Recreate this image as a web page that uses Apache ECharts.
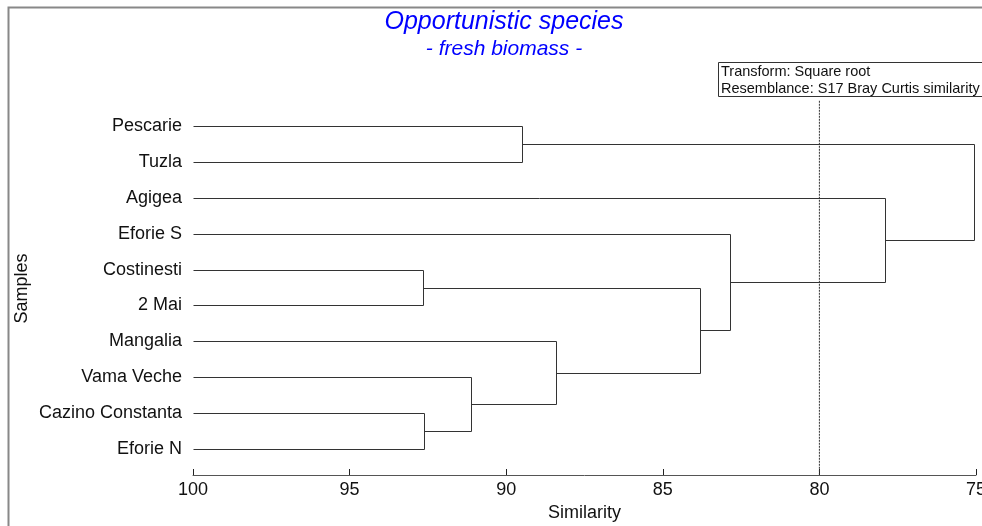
<!DOCTYPE html>
<html><head><meta charset="utf-8">
<script src="https://cdn.jsdelivr.net/npm/echarts@6/dist/echarts.min.js"></script>
<style>html,body{margin:0;padding:0;background:#fff;overflow:hidden}#c{width:982px;height:526px}</style>
</head><body><div id="c"></div>
<script>
// Samples (leaves, top to bottom)
const samples = ['Pescarie','Tuzla','Agigea','Eforie S','Costinesti','2 Mai','Mangalia','Vama Veche','Cazino Constanta','Eforie N'];
// Merges: child ids (0-9 = samples, 10+k = merge k), similarity level
const mergeLeft  = [4, 8, 7, 0, 6, 10, 3, 2, 13];
const mergeRight = [5, 9, 11, 1, 12, 14, 15, 16, 17];
const mergeLevel = [92.66, 92.63, 91.11, 89.49, 88.41, 83.81, 82.85, 77.92, 75.07];
const xTicks = [100, 95, 90, 85, 80, 75];
const cutLevel = 80;
const titleText = 'Opportunistic species';
const subtitleText = '- fresh biomass -';
const legendLines = ['Transform: Square root', 'Resemblance: S17 Bray Curtis similarity'];

// node positions
const nodeX = samples.map(() => 100);
const nodeY = samples.map((_, i) => i);
mergeLevel.forEach((lvl, k) => {
  nodeX.push(lvl);
  nodeY.push((nodeY[mergeLeft[k]] + nodeY[mergeRight[k]]) / 2);
});
const mergeData = mergeLevel.map((lvl, k) => [
  nodeX[mergeLeft[k]], nodeY[mergeLeft[k]], lvl, nodeY[mergeRight[k]], nodeX[mergeRight[k]]
]);

const chart = echarts.init(document.getElementById('c'));
const font = '"Liberation Sans", Arial, sans-serif';
const crisp = v => Math.round(v) + 0.5;

chart.setOption({
  animation: false,
  backgroundColor: '#fff',
  textStyle: { fontFamily: font },
  title: [
    { text: titleText, left: 499, top: 5, textAlign: 'center',
      textStyle: { color: '#0000ff', fontStyle: 'italic', fontWeight: 'normal', fontSize: 25, fontFamily: font } },
    { text: subtitleText, left: 499, top: 34, textAlign: 'center',
      textStyle: { color: '#0000ff', fontStyle: 'italic', fontWeight: 'normal', fontSize: 21, fontFamily: font } },
    { text: legendLines.join('\n'), left: 718, top: 62, padding: [1, 3, 0, 3],
      borderColor: '#333', borderWidth: 1,
      textStyle: { color: '#111', fontWeight: 'normal', fontSize: 14.5, lineHeight: 17, fontFamily: font } }
  ],
  graphic: [
    { type: 'rect', left: 6, top: 5, z: -1, silent: true,
      shape: { width: 1000, height: 600 },
      style: { fill: null, stroke: '#888', lineWidth: 2 } }
  ],
  grid: { left: 193, right: 6, top: 90, bottom: 51, containLabel: false, outerBoundsMode: 'none' },
  xAxis: {
    type: 'value', inverse: true, min: 75, max: 100, interval: 5,
    name: 'Similarity', nameLocation: 'middle', nameGap: 29, nameMoveOverlap: false,
    nameTextStyle: { fontSize: 18, color: '#111', fontFamily: font },
    axisLine: { onZero: false, lineStyle: { color: '#555', width: 1 } },
    axisTick: { inside: true, length: 6, lineStyle: { color: '#222' } },
    axisLabel: { fontSize: 18, color: '#111', margin: 6, fontFamily: font,
      formatter: v => xTicks.includes(v) ? String(v) : '' },
    splitLine: { show: false }
  },
  yAxis: {
    type: 'value', inverse: true, min: -1, max: 9.72, interval: 1,
    name: 'Samples', nameLocation: 'middle', nameGap: 162, nameRotate: 90, nameMoveOverlap: false,
    nameTextStyle: { fontSize: 18, color: '#111', fontFamily: font, padding: [0, 12, 0, 0] },
    axisLine: { show: false, onZero: false }, axisTick: { show: false }, splitLine: { show: false },
    axisLabel: { fontSize: 18, color: '#111', margin: 11, fontFamily: font,
      formatter: v => { const i = Math.round(v); return (Math.abs(v - i) < 1e-6 && i >= 0 && i < samples.length) ? samples[i] : ''; } }
  },
  series: [
    {
      type: 'custom',
      data: mergeData,
      encode: { x: [0, 2, 4], y: [1, 3] },
      renderItem: (params, api) => {
        const xL = api.value(0), yL = api.value(1), lv = api.value(2), yR = api.value(3), xR = api.value(4);
        const pts = [[xL, yL], [lv, yL], [lv, yR], [xR, yR]].map(p => {
          const c = api.coord(p); return [crisp(c[0]), crisp(c[1])];
        });
        return { type: 'polyline', shape: { points: pts },
          style: { stroke: '#333', lineWidth: 1, fill: null } };
      }
    },
    {
      type: 'line', symbol: 'none', silent: true,
      data: [[cutLevel, -0.7], [cutLevel, 9.72]],
      lineStyle: { color: '#333', width: 1, type: [2, 1] }
    }
  ]
});
</script></body></html>
